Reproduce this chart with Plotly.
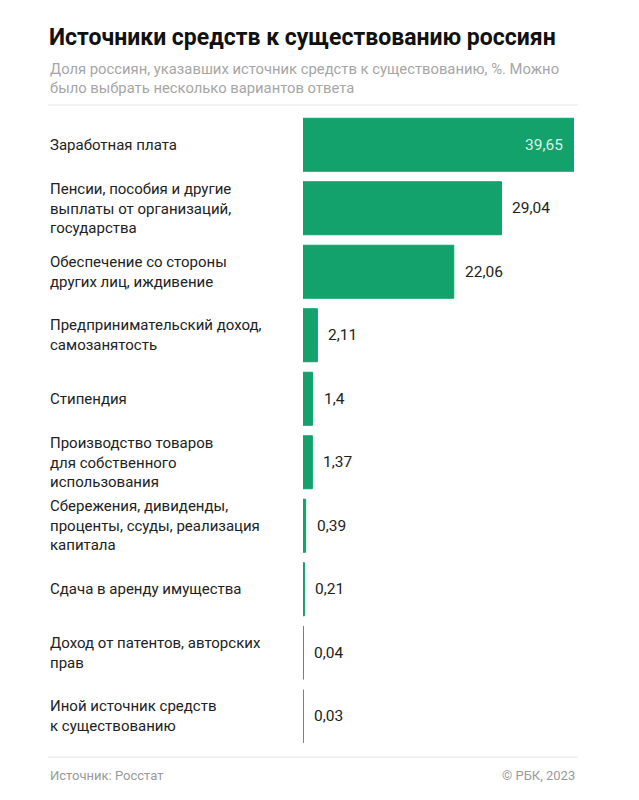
import plotly.graph_objects as go

categories = [
    "Заработная плата",
    "Пенсии, пособия и другие<br>выплаты от организаций,<br>государства",
    "Обеспечение со стороны<br>других лиц, иждивение",
    "Предпринимательский доход,<br>самозанятость",
    "Стипендия",
    "Производство товаров<br>для собственного<br>использования",
    "Сбережения, дивиденды,<br>проценты, ссуды, реализация<br>капитала",
    "Сдача в аренду имущества",
    "Доход от патентов, авторских<br>прав",
    "Иной источник средств<br>к существованию",
]
values = [39.65, 29.04, 22.06, 2.11, 1.4, 1.37, 0.39, 0.21, 0.04, 0.03]
value_labels = ["39,65", "29,04", "22,06", "2,11", "1,4", "1,37", "0,39", "0,21", "0,04", "0,03"]

title = "Источники средств к существованию россиян"
subtitle = "Доля россиян, указавших источник средств к существованию, %. Можно<br>было выбрать несколько вариантов ответа"
source = "Источник: Росстат"
credit = "© РБК, 2023"

GREEN = "#13a26b"
FONT = "Roboto"

# page has an 8px body margin; work in page pixel coordinates
OFF = 8
W, H = 639 - OFF, 800 - OFF
PLOT_L, PLOT_R, PLOT_T, PLOT_B = 303, 574, 113, 748  # page pixels
ML = PLOT_L - OFF
MR = W - (PLOT_R - OFF)
MT = PLOT_T - OFF
MB = H - (PLOT_B - OFF)
PW = PLOT_R - PLOT_L
PH = PLOT_B - PLOT_T


def px_x(p):
    return (p - PLOT_L) / PW


def px_y(p):
    return (PLOT_B - p) / PH


ids = list(range(len(categories)))

fig = go.Figure()
fig.add_trace(go.Bar(
    x=values, y=ids, orientation="h",
    marker=dict(color=GREEN, line=dict(color=GREEN, width=1)),
    hoverinfo="skip",
))

annotations = []
for i, (c, v, t) in enumerate(zip(categories, values, value_labels)):
    annotations.append(dict(
        x=px_x(48), xref="paper", y=i, yref="y", text=c, showarrow=False,
        xanchor="left", yanchor="middle", align="left",
        font=dict(family=FONT, size=15, color="#222222"),
    ))
    inside = v > 35
    annotations.append(dict(
        x=v, xref="x", y=i, yref="y", text=t, showarrow=False,
        xanchor="right" if inside else "left",
        xshift=-9 if inside else 9, yanchor="middle",
        font=dict(family=FONT, size=15.5,
                  color="#d9f2e6" if inside else "#222222"),
    ))

annotations += [
    dict(x=px_x(47), xref="paper", y=px_y(38), yref="paper", text=f"<b>{title}</b>",
         showarrow=False, xanchor="left", yanchor="middle",
         font=dict(family=FONT, size=23, color="#111111")),
    dict(x=px_x(48), xref="paper", y=px_y(78.5), yref="paper", text=subtitle,
         showarrow=False, xanchor="left", yanchor="middle", align="left",
         font=dict(family=FONT, size=14.8, color="#a6a6a6")),
    dict(x=px_x(48), xref="paper", y=px_y(775), yref="paper", text=source,
         showarrow=False, xanchor="left", yanchor="middle",
         font=dict(family=FONT, size=13, color="#9a9a9a")),
    dict(x=px_x(577), xref="paper", y=px_y(775), yref="paper", text=credit,
         showarrow=False, xanchor="right", yanchor="middle",
         font=dict(family=FONT, size=13, color="#9a9a9a")),
]

shapes = [
    dict(type="line", xref="paper", yref="paper", x0=px_x(48), x1=px_x(578),
         y0=px_y(105), y1=px_y(105), line=dict(color="#e6e6e6", width=1)),
    dict(type="line", xref="paper", yref="paper", x0=px_x(48), x1=px_x(578),
         y0=px_y(757), y1=px_y(757), line=dict(color="#e6e6e6", width=1)),
]

fig.update_layout(
    width=W, height=H,
    margin=dict(l=ML, r=MR, t=MT, b=MB),
    paper_bgcolor="white", plot_bgcolor="white",
    showlegend=False, bargap=0.165,
    xaxis=dict(range=[0, max(values)], visible=False, fixedrange=True),
    yaxis=dict(range=[len(categories) - 0.5, -0.5], visible=False, fixedrange=True),
    annotations=annotations, shapes=shapes,
)

fig.write_html("out.html")
